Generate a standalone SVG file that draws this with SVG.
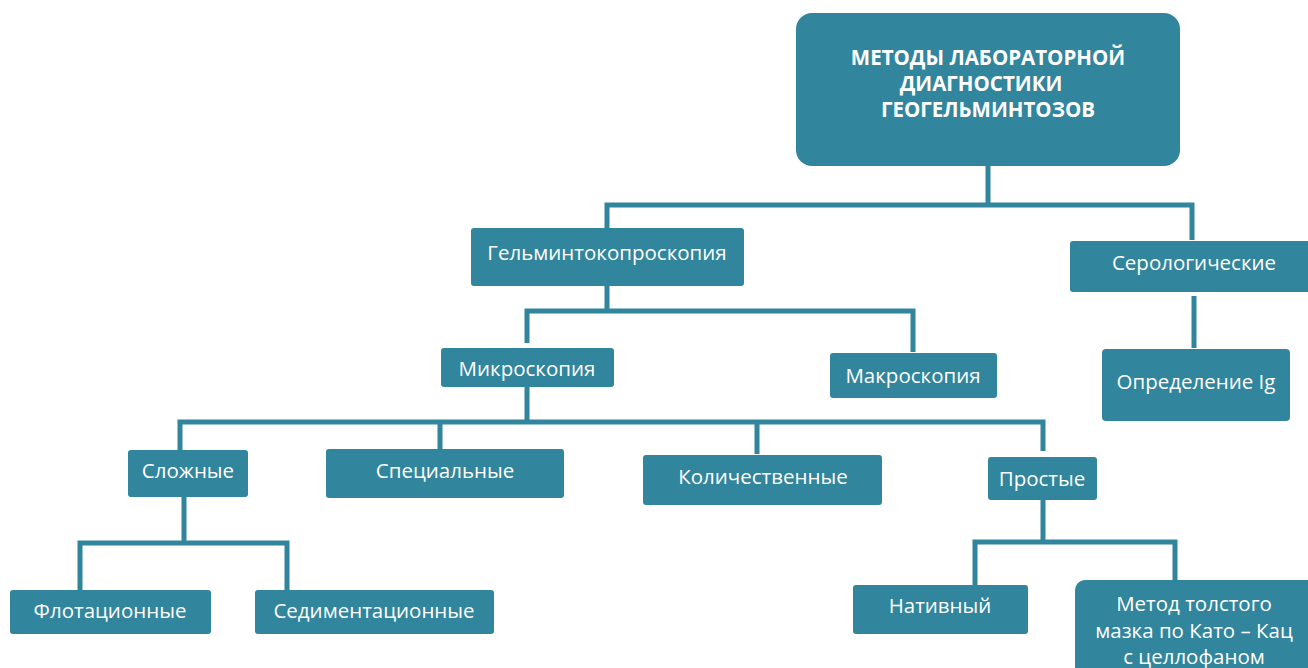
<svg xmlns="http://www.w3.org/2000/svg" width="1308" height="668" viewBox="0 0 1308 668">
<style>
.n{fill:#31859c;}
.t{fill:#ffffff;font-family:"Open Sans","DejaVu Sans",sans-serif;font-size:20.5px;text-anchor:middle;}
.b{font-weight:bold;font-size:20.5px;}
.c{fill:none;stroke:#31859c;stroke-width:5;}
</style>
<rect width="1308" height="668" fill="#ffffff"/>
<g id="connectors">
<path class="c" d="M988,166V205M607,230V205H1192V240"/>
<path class="c" d="M1194,296V348"/>
<path class="c" d="M607,286V311M527,343V311H913V352"/>
<path class="c" d="M527,387V422M180,450V422H1043V451M440,422V449M757,422V454"/>
<path class="c" d="M184,497V543M80,590V543H287V590"/>
<path class="c" d="M1043,500V542M975,585V542H1175V580"/>
</g>
<g id="root"><rect class="n" x="796" y="13" width="384" height="153" rx="16"/>
<text class="t b" x="988" y="65">МЕТОДЫ ЛАБОРАТОРНОЙ</text>
<text class="t b" x="981" y="91">ДИАГНОСТИКИ</text>
<text class="t b" x="988" y="117">ГЕОГЕЛЬМИНТОЗОВ</text></g>
<g id="helm"><rect class="n" x="471" y="228" width="273" height="58" rx="3"/><text class="t" x="607" y="260">Гельминтокопроскопия</text></g>
<g id="sero"><rect class="n" x="1070" y="241" width="250" height="51" rx="3"/><text class="t" x="1194" y="270">Серологические</text></g>
<g id="ig"><rect class="n" x="1102" y="349" width="188" height="72" rx="4"/><text class="t" x="1196" y="389">Определение Ig</text></g>
<g id="micro"><rect class="n" x="441" y="348" width="173" height="39" rx="3"/><text class="t" x="527" y="376">Микроскопия</text></g>
<g id="macro"><rect class="n" x="830" y="353" width="167" height="45" rx="3"/><text class="t" x="913" y="383">Макроскопия</text></g>
<g id="slozh"><rect class="n" x="128" y="450" width="120" height="47" rx="3"/><text class="t" x="188" y="478">Сложные</text></g>
<g id="spec"><rect class="n" x="326" y="449" width="238" height="49" rx="3"/><text class="t" x="445" y="478">Специальные</text></g>
<g id="kol"><rect class="n" x="643" y="455" width="239" height="50" rx="3"/><text class="t" x="763" y="484">Количественные</text></g>
<g id="prost"><rect class="n" x="988" y="457" width="109" height="43" rx="3"/><text class="t" x="1042" y="486">Простые</text></g>
<g id="flot"><rect class="n" x="10" y="590" width="201" height="44" rx="3"/><text class="t" x="110" y="618">Флотационные</text></g>
<g id="sed"><rect class="n" x="255" y="590" width="239" height="44" rx="3"/><text class="t" x="374" y="618">Седиментационные</text></g>
<g id="nat"><rect class="n" x="853" y="585" width="175" height="49" rx="3"/><text class="t" x="940" y="613">Нативный</text></g>
<g id="kato"><rect class="n" x="1075" y="580" width="245" height="100" rx="10"/>
<text class="t" x="1194" y="611">Метод толстого</text>
<text class="t" x="1194" y="638">мазка по Като – Кац</text>
<text class="t" x="1194" y="664">с целлофаном</text></g>
</svg>
